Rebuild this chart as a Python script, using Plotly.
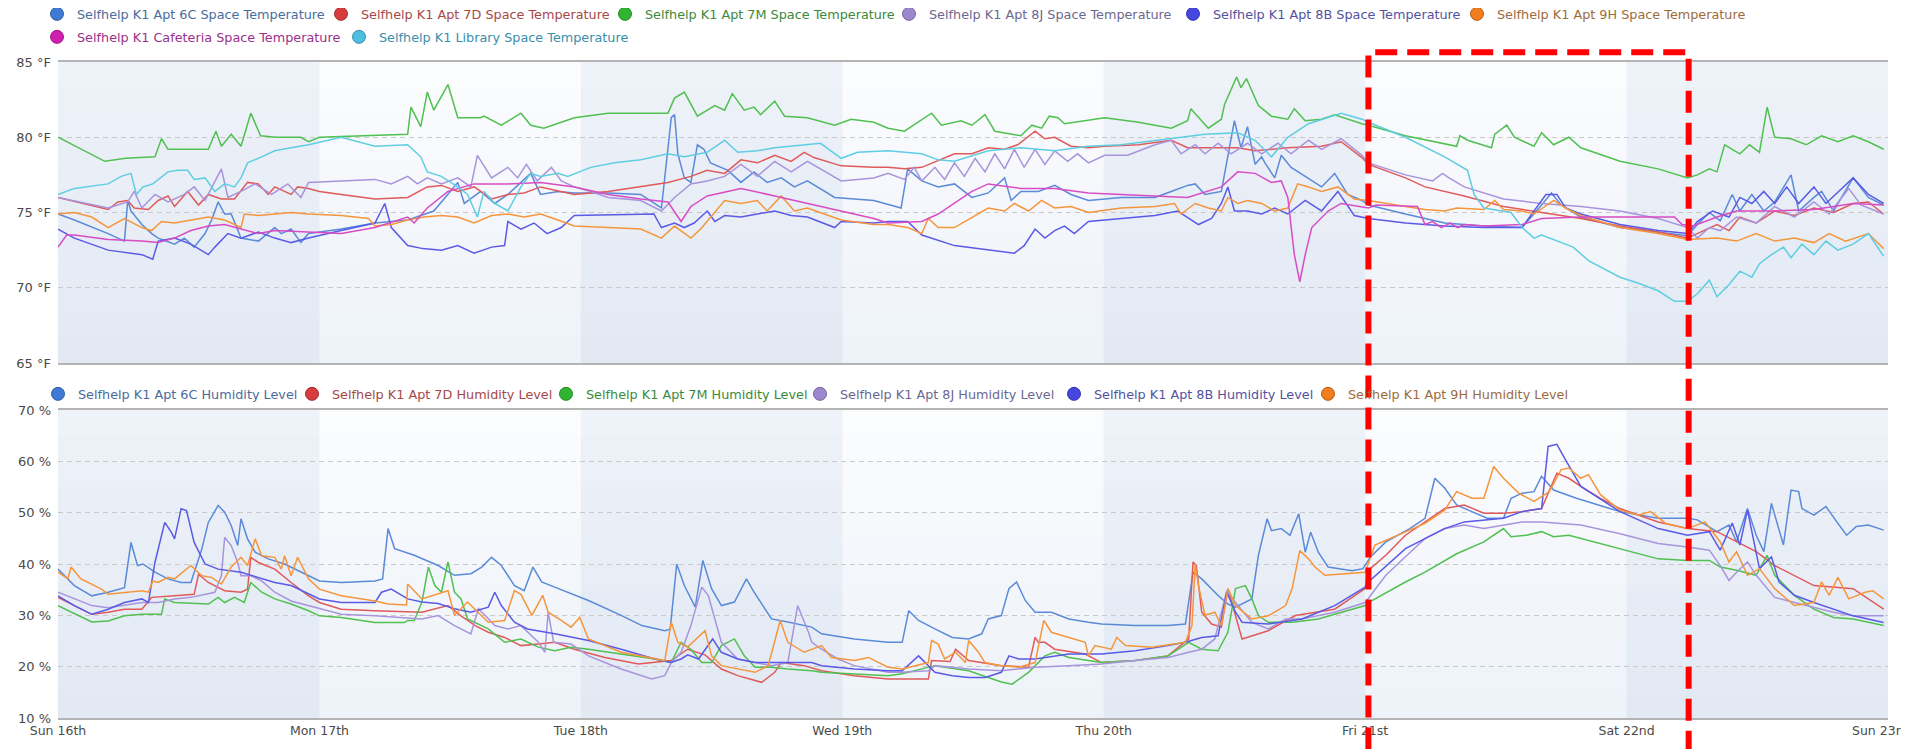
import plotly.graph_objects as go
from datetime import datetime, timedelta

BASE = datetime(2018, 9, 16)

day_labels = ["Sun 16th", "Mon 17th", "Tue 18th", "Wed 19th", "Thu 20th", "Fri 21st", "Sat 22nd", "Sun 23rd"]
temp_ticks = [65, 70, 75, 80, 85]
temp_ticktext = ["65 °F", "70 °F", "75 °F", "80 °F", "85 °F"]
hum_ticks = [10, 20, 30, 40, 50, 60, 70]
hum_ticktext = ["10 %", "20 %", "30 %", "40 %", "50 %", "60 %", "70 %"]

# ---- Space temperature (°F), (hours since Sun 16th 00:00, value) ----
temp_6c = [(0,74.9),(1.5,74.5),(4.6,73.6),(6.1,73.1),(6.4,75.8),(6.7,75.1),(7.7,74.2),(8.6,73.6),(9.2,73.3),(10.7,72.9),(11.6,73.3),(12.5,72.7),(13.5,73.6),(14.1,74.5),(14.7,75.7),(15.3,74.9),(15.9,74.9),(16.8,73.3),(18.4,73.1),(19.9,74.0),(20.5,73.6),(21.4,73.9),(22.3,73.0),(23.0,73.6),(24.0,73.7),(26.0,73.9),(29.1,74.3),(32.1,74.5),(34.5,75.1),(36.7,77.0),(37.3,75.6),(38.8,76.4),(40.1,75.6),(41.3,76.2),(43.4,77.6),(44.3,76.2),(45.9,76.4),(47.4,76.3),(50.5,76.3),(53.5,76.2),(55.4,75.3),(56.3,81.3),(56.6,81.5),(56.9,78.9),(57.5,77.3),(58.1,77.0),(58.7,79.5),(59.3,79.2),(59.9,78.3),(61.5,77.8),(62.7,77.0),(63.9,77.7),(65.1,77.0),(66.4,77.3),(67.6,76.7),(68.8,77.1),(71.3,76.0),(74.9,75.8),(77.4,75.3),(78.0,77.9),(79.3,77.1),(80.8,76.7),(82.3,76.9),(83.9,76.0),(85.4,76.3),(86.9,77.3),(87.5,75.8),(88.4,76.4),(90.0,76.4),(91.5,76.8),(93.0,76.2),(94.6,75.8),(97.6,76.0),(100.7,76.0),(102.2,76.4),(103.7,76.8),(104.4,76.9),(105.3,76.2),(106.8,76.4),(108.0,81.1),(108.6,79.3),(109.2,80.7),(109.9,78.2),(110.5,78.7),(110.8,78.3),(111.7,77.3),(112.3,78.8),(113.2,78.0),(114.5,77.4),(116.0,76.7),(117.2,77.6),(118.4,76.2),(119.7,75.8),(120.3,75.5),(123.7,74.9),(127.3,74.3),(130.9,74.1),(134.4,74.0),(136.2,75.5),(137.1,76.3),(138.0,75.5),(139.8,74.7),(143.4,74.0),(146.9,73.7),(149.6,73.45),(150.5,74.2),(151.6,75.0),(152.6,74.45),(153.7,76.2),(154.4,75.1),(155.5,76.2),(156.6,75.1),(157.6,75.7),(159.1,77.5),(159.8,75.1),(161.2,76.0),(161.9,76.4),(163.0,75.1),(164.8,77.3),(166.2,76.0),(167.6,75.5)]

temp_7d = [(0,76.0),(4.6,75.2),(5.5,75.7),(6.4,75.8),(7.0,75.3),(8.3,75.2),(9.2,75.8),(10.1,76.1),(10.7,75.4),(11.9,76.4),(12.9,75.5),(13.8,76.2),(15.0,75.9),(16.2,75.9),(17.4,77.0),(18.4,76.9),(19.3,76.2),(19.9,76.7),(21.4,76.2),(22.0,76.7),(23.0,76.6),(24.0,76.4),(26.0,76.2),(29.1,75.9),(32.1,76.0),(33.9,76.7),(35.2,76.8),(36.7,76.4),(38.2,76.7),(39.8,75.9),(41.3,76.2),(42.8,76.3),(44.3,76.7),(47.4,76.2),(50.5,76.4),(53.5,76.7),(56.0,77.0),(58.1,77.4),(59.6,77.8),(61.2,77.6),(62.7,78.5),(64.2,78.3),(65.8,78.8),(67.3,78.4),(68.5,79.0),(69.4,78.65),(71.9,78.1),(74.9,78.0),(76.2,78.0),(77.7,77.9),(79.3,78.0),(82.3,78.9),(83.9,78.9),(85.4,79.3),(86.9,79.2),(88.1,79.5),(89.7,80.4),(90.6,79.9),(91.5,80.0),(93.0,79.4),(94.6,79.3),(96.1,79.4),(99.2,79.5),(102.2,79.8),(103.7,79.3),(106.8,79.3),(108.3,79.3),(109.9,79.1),(112.9,79.3),(116.0,79.4),(117.8,79.7),(119.7,78.65),(120.3,78.2),(123.7,77.3),(125.5,76.7),(129.1,76.1),(132.7,75.4),(136.2,75.0),(139.8,74.6),(143.4,74.1),(146.9,73.7),(149.6,73.3),(150.5,73.6),(152.3,74.2),(153.4,73.8),(154.4,74.7),(155.9,74.3),(157.6,75.1),(159.4,74.8),(161.2,75.3),(163.0,75.0),(164.8,75.6),(166.2,75.7),(167.6,74.9)]

temp_7m = [(0,80.0),(4.3,78.4),(6.2,78.6),(8.9,78.7),(9.5,79.9),(10.1,79.2),(13.8,79.2),(14.5,80.4),(15.0,79.4),(15.9,80.2),(16.8,79.4),(17.7,81.6),(18.6,80.1),(20.0,80.0),(22.3,80.0),(23.0,79.7),(24.0,80.0),(28.0,80.1),(32.1,80.2),(32.4,82.0),(33.3,80.7),(33.9,83.0),(34.5,81.8),(35.8,83.5),(36.7,81.3),(38.8,81.3),(39.1,81.4),(40.7,80.8),(42.5,81.6),(43.4,80.8),(44.6,80.6),(47.4,81.3),(50.5,81.6),(56.0,81.6),(56.6,82.6),(57.5,83.0),(58.7,81.4),(60.3,82.1),(61.2,81.8),(61.9,82.9),(63.0,81.8),(63.9,82.0),(64.5,81.5),(65.8,82.4),(66.7,81.4),(68.8,81.3),(71.3,80.8),(72.8,81.2),(74.9,81.0),(76.2,80.6),(77.7,80.4),(80.2,81.6),(81.1,80.8),(82.9,81.1),(83.9,80.8),(85.1,81.5),(86.0,80.4),(88.4,80.1),(89.4,80.8),(90.3,80.6),(91.0,81.4),(91.8,81.3),(92.4,80.9),(96.1,81.3),(99.2,81.0),(102.2,80.6),(103.7,81.1),(104.0,81.9),(105.6,80.6),(106.8,81.2),(107.1,82.2),(108.2,84.0),(108.6,83.3),(109.1,83.9),(110.2,82.1),(111.4,81.4),(112.9,81.2),(113.5,81.9),(114.5,81.1),(116.0,81.2),(117.2,81.5),(119.7,80.9),(120.3,80.8),(123.7,80.1),(128.4,79.4),(128.7,80.1),(129.4,79.8),(131.6,79.3),(131.9,80.2),(133.0,80.8),(133.7,80.0),(135.5,79.4),(136.2,80.3),(137.3,79.5),(138.7,80.0),(139.8,79.3),(143.4,78.4),(146.9,77.9),(149.6,77.3),(150.5,77.5),(151.6,77.9),(152.3,77.7),(153.0,79.5),(154.4,78.9),(155.3,79.5),(156.2,79.0),(156.9,82.0),(157.6,80.0),(159.1,79.9),(160.5,79.5),(161.9,80.1),(163.4,79.7),(164.8,80.1),(166.2,79.7),(167.6,79.2)]

temp_8j = [(0,76.0),(4.6,75.3),(6.4,75.7),(7.0,76.4),(7.7,75.3),(8.9,76.2),(10.1,75.7),(11.6,76.2),(12.5,76.7),(13.5,75.8),(15.0,77.9),(15.6,76.0),(16.8,76.4),(18.1,76.9),(19.6,76.2),(21.1,76.9),(22.3,76.0),(23.0,77.0),(26.0,77.1),(29.1,77.2),(30.6,76.9),(32.1,77.4),(33.0,76.9),(33.9,77.3),(35.2,76.9),(36.7,77.3),(37.9,76.7),(38.5,78.8),(39.8,77.3),(41.3,78.0),(42.2,77.3),(43.0,78.2),(44.0,77.1),(45.3,78.0),(46.2,77.1),(47.4,76.7),(48.9,76.4),(50.5,76.0),(53.5,75.8),(55.4,75.1),(56.6,76.0),(58.1,76.9),(59.6,77.1),(61.2,77.4),(62.7,78.2),(64.2,77.4),(65.8,78.4),(67.3,77.7),(68.8,78.4),(70.4,77.7),(71.9,77.1),(74.9,77.3),(76.2,77.6),(77.7,77.2),(78.6,78.0),(79.3,77.1),(80.5,78.0),(81.4,77.2),(82.3,78.3),(83.2,77.4),(84.2,78.6),(85.1,77.7),(86.0,78.9),(86.9,77.9),(87.8,79.2),(88.7,78.0),(89.7,79.2),(90.6,78.2),(91.5,79.1),(92.7,78.4),(93.6,78.9),(94.6,78.3),(96.1,78.8),(98.2,78.8),(100.7,79.5),(102.2,79.8),(103.1,78.9),(104.4,79.5),(105.3,78.9),(106.5,79.6),(107.7,78.9),(109.2,79.6),(110.5,78.9),(112.0,79.6),(113.2,78.9),(114.8,79.8),(116.0,79.2),(117.8,79.9),(119.7,78.8),(120.3,78.3),(123.7,77.5),(126.2,77.1),(127.1,77.6),(127.7,77.3),(129.1,76.7),(132.7,75.9),(136.2,75.6),(139.8,75.4),(143.4,75.1),(146.9,74.6),(149.6,74.0),(150.5,73.3),(151.6,74.0),(152.6,73.8),(154.1,74.7),(155.9,74.3),(157.6,75.4),(159.4,74.7),(161.2,75.7),(162.6,74.9),(164.4,76.6),(165.5,75.5),(167.6,74.9)]

temp_8b = [(0,73.9),(1.5,73.3),(4.6,72.5),(7.7,72.2),(8.7,71.9),(9.2,73.1),(10.7,73.3),(12.2,72.9),(13.8,72.2),(14.4,72.7),(15.6,73.6),(16.8,73.3),(18.4,73.7),(19.9,73.3),(21.4,73.0),(23.0,73.3),(26.0,73.8),(29.1,74.3),(30.0,75.6),(30.6,74.0),(32.1,72.8),(33.5,72.6),(35.2,72.5),(36.7,72.8),(38.2,72.3),(39.8,72.7),(41.0,72.8),(41.3,74.4),(42.5,73.9),(43.7,74.3),(44.9,73.6),(46.2,74.0),(47.4,74.8),(54.7,74.9),(55.4,74.0),(56.6,74.3),(57.5,74.0),(58.4,74.3),(59.6,75.1),(60.3,74.4),(61.2,74.8),(62.7,74.7),(64.2,74.9),(65.8,75.1),(67.3,74.8),(68.8,74.7),(71.3,74.0),(71.9,74.4),(74.9,74.3),(76.2,74.4),(78.0,74.4),(79.3,73.5),(82.3,72.8),(85.4,72.5),(87.8,72.3),(88.7,72.8),(89.7,73.9),(90.6,73.3),(91.5,73.8),(92.4,74.1),(93.3,73.6),(94.6,74.4),(97.6,74.6),(100.7,74.8),(102.8,75.1),(103.7,74.7),(104.7,74.2),(105.9,74.6),(106.8,75.6),(107.4,76.7),(108.0,75.1),(109.2,75.1),(110.5,74.9),(111.7,75.3),(112.9,74.9),(114.5,75.8),(116.0,75.1),(117.5,76.4),(119.0,74.8),(120.3,74.6),(123.7,74.3),(127.3,74.1),(130.9,74.0),(134.4,74.0),(136.6,76.2),(137.6,76.2),(138.4,75.3),(139.8,74.9),(143.4,74.2),(146.9,73.8),(149.6,73.6),(150.5,74.4),(151.9,75.1),(153.4,74.7),(154.4,76.0),(155.5,75.6),(156.6,76.4),(157.6,75.6),(158.7,76.7),(159.8,75.6),(161.2,76.7),(162.3,75.6),(164.8,77.3),(166.2,76.2),(167.6,75.6)]

temp_9h = [(0,74.9),(1.5,75.0),(3.1,74.7),(4.6,74.0),(6.1,74.6),(7.7,74.0),(8.6,73.8),(9.5,74.4),(10.7,74.3),(12.2,74.5),(13.8,74.7),(15.3,74.5),(16.8,74.0),(17.1,74.9),(18.4,74.8),(19.9,74.9),(21.4,75.0),(23.0,74.9),(26.0,74.8),(28.5,74.6),(29.1,74.1),(30.6,74.2),(32.1,74.5),(33.6,74.7),(35.2,74.8),(36.7,74.7),(38.2,74.3),(39.8,74.8),(41.3,74.9),(42.8,74.7),(44.3,74.9),(45.9,74.5),(47.4,74.1),(50.5,74.0),(53.5,73.9),(55.4,73.3),(56.6,74.1),(58.1,73.3),(59.0,73.9),(61.2,75.8),(62.7,75.6),(64.2,75.8),(65.1,75.1),(66.4,76.1),(67.6,75.1),(68.8,75.3),(70.4,74.9),(71.9,74.5),(74.9,74.2),(76.2,74.2),(78.0,74.0),(79.3,73.6),(79.9,74.6),(80.8,74.0),(82.3,74.0),(83.9,74.7),(85.4,75.3),(86.9,75.1),(87.8,75.6),(89.1,75.1),(90.3,75.8),(91.5,75.3),(93.0,75.4),(94.6,75.0),(97.6,75.3),(100.7,75.4),(102.5,75.6),(103.1,74.9),(104.4,75.6),(105.6,75.3),(106.8,75.1),(107.4,76.0),(108.3,75.6),(109.2,75.8),(110.5,75.6),(111.7,75.1),(112.9,75.3),(113.8,76.9),(114.8,76.7),(116.0,76.4),(117.5,76.7),(119.0,75.9),(120.3,75.8),(123.7,75.4),(125.5,75.2),(127.3,75.1),(128.4,75.3),(130.9,75.2),(131.9,75.8),(132.7,75.2),(134.4,75.1),(135.5,74.9),(137.3,75.8),(138.4,75.3),(139.8,74.8),(143.4,74.0),(146.9,73.6),(149.6,73.2),(152.3,73.3),(154.1,73.1),(155.9,73.6),(157.6,73.1),(159.4,73.3),(161.2,73.0),(162.6,73.6),(164.1,73.1),(166.2,73.6),(167.6,72.6)]

temp_cafeteria = [(0,72.7),(0.8,73.5),(1.5,73.5),(4.6,73.2),(7.7,73.1),(9.2,73.0),(10.7,73.3),(12.2,73.8),(13.8,74.1),(15.3,74.2),(16.8,73.9),(18.4,73.6),(19.9,73.8),(23.0,73.7),(26.0,73.6),(29.1,74.0),(32.1,74.7),(32.7,74.3),(33.9,75.3),(35.8,76.4),(38.2,76.9),(41.3,76.9),(44.3,77.0),(47.4,76.7),(50.5,76.2),(53.5,75.9),(56.0,75.7),(57.2,74.4),(58.1,75.4),(59.6,76.1),(62.7,76.6),(65.8,76.1),(68.8,75.6),(71.9,75.1),(74.9,74.6),(76.2,74.3),(79.3,74.4),(80.8,74.9),(82.3,75.6),(83.9,76.4),(85.4,76.9),(88.4,76.6),(91.5,76.6),(94.6,76.3),(97.6,76.2),(100.7,76.1),(103.7,76.0),(106.8,76.7),(108.3,77.7),(109.9,77.6),(111.4,77.0),(112.3,77.1),(112.9,76.0),(113.5,72.2),(114.0,70.4),(114.5,72.2),(115.1,74.0),(116.6,75.1),(117.8,75.6),(120.3,75.3),(121.0,75.5),(124.8,75.4),(125.5,74.2),(126.2,74.4),(127.0,74.0),(127.8,74.3),(128.5,74.0),(129.1,74.2),(130.9,74.1),(134.4,74.2),(136.2,74.6),(139.8,74.7),(143.4,74.7),(148.4,74.7),(149.1,74.2),(150.1,74.1),(152.3,74.7),(154.1,75.1),(157.6,75.1),(161.2,75.2),(164.8,75.6),(167.6,75.5)]

temp_library = [(0,76.2),(1.5,76.6),(4.6,76.9),(5.8,77.4),(6.7,77.6),(7.2,76.2),(7.8,76.7),(8.7,76.9),(10.1,77.7),(11.0,77.8),(11.9,77.8),(12.5,77.2),(13.5,77.3),(14.4,76.4),(15.3,76.9),(16.2,76.7),(16.8,77.3),(17.4,78.3),(18.7,78.7),(19.9,79.1),(21.4,79.3),(23.0,79.5),(26.0,80.0),(29.1,79.4),(32.1,79.5),(33.3,78.7),(33.9,77.7),(35.2,77.4),(36.7,76.7),(37.6,76.2),(38.5,74.7),(39.1,76.4),(40.1,75.6),(41.3,75.1),(42.5,76.7),(43.4,77.6),(44.3,77.4),(45.9,77.6),(46.8,77.4),(48.9,78.0),(51.1,78.3),(53.5,78.5),(56.0,78.9),(57.5,78.7),(59.6,79.0),(61.2,79.8),(62.4,79.0),(64.2,79.1),(65.8,79.3),(67.3,79.4),(68.8,79.5),(70.0,79.6),(71.9,78.6),(73.4,79.0),(76.2,79.1),(79.3,78.9),(80.8,78.5),(82.3,78.4),(85.4,79.1),(88.4,79.3),(91.5,79.1),(94.6,79.4),(97.6,79.5),(102.2,79.9),(105.3,80.2),(108.3,80.3),(109.9,79.8),(111.4,78.7),(112.9,80.0),(114.8,80.9),(116.0,81.2),(117.8,81.6),(119.7,81.2),(120.3,81.0),(123.7,80.0),(127.3,78.7),(129.4,77.8),(130.0,76.2),(130.9,75.3),(133.4,75.0),(134.4,74.0),(135.5,73.3),(136.2,73.5),(139.1,72.7),(140.5,71.8),(143.4,70.7),(145.1,70.3),(146.9,69.8),(148.4,69.1),(149.6,69.1),(150.5,69.6),(151.6,70.5),(152.3,69.4),(153.4,70.2),(154.4,71.1),(155.5,70.7),(156.2,71.6),(157.3,72.2),(158.4,72.7),(159.1,72.0),(160.1,72.9),(161.2,72.2),(162.3,73.1),(163.4,72.5),(164.8,72.9),(166.2,73.6),(167.6,72.1)]

# ---- Humidity level (%) ----
hum_6c = [(0,39.0),(1.5,35.8),(3.1,33.8),(4.6,34.5),(6.1,35.4),(6.7,44.2),(7.3,39.7),(7.8,40.0),(8.9,38.4),(10.1,37.1),(11.3,36.4),(12.2,36.4),(13.2,42.9),(13.8,48.1),(14.7,51.4),(15.3,50.1),(15.9,47.5),(16.5,43.6),(16.8,48.8),(17.4,44.9),(18.1,42.3),(19.3,41.0),(20.8,40.0),(22.3,38.4),(24.0,36.7),(26.0,36.4),(29.1,36.7),(29.8,37.1),(30.3,46.9),(30.9,43.0),(32.7,41.7),(34.9,39.7),(36.4,37.8),(37.9,38.1),(38.9,39.4),(39.8,41.3),(40.7,39.7),(41.9,35.8),(42.8,34.8),(43.6,39.4),(44.4,36.5),(45.6,35.5),(48.7,32.9),(51.7,30.0),(53.6,28.0),(55.7,27.0),(56.2,27.3),(56.8,40.0),(57.5,35.8),(58.5,31.6),(59.2,40.7),(60.0,35.2),(60.9,31.9),(62.1,32.6),(63.2,37.1),(63.9,34.5),(65.5,29.3),(67.0,28.7),(69.2,27.7),(70.1,26.4),(73.1,25.4),(76.2,24.75),(77.5,24.75),(78.1,30.9),(79.0,29.0),(80.5,27.35),(82.1,25.7),(83.6,25.4),(84.8,26.4),(85.4,29.3),(86.6,29.95),(87.3,35.2),(88.0,36.5),(88.8,32.9),(89.7,30.6),(91.2,30.6),(92.8,29.3),(94.6,28.65),(95.8,28.3),(98.9,28.0),(101.9,28.0),(103.5,28.3),(104.2,38.4),(105.0,37.1),(106.5,33.85),(107.4,32.2),(108.1,31.6),(109.6,33.2),(110.2,41.7),(111.0,48.8),(111.4,46.5),(112.3,46.9),(113.1,45.6),(113.9,49.8),(114.5,42.3),(115.0,46.2),(115.7,42.3),(116.6,39.4),(118.8,38.7),(119.8,39.1),(120.5,41.4),(121.9,44.3),(124.1,46.9),(125.5,48.9),(126.4,56.7),(127.3,54.8),(128.4,51.5),(129.8,50.2),(131.2,48.9),(132.7,48.9),(133.4,52.8),(134.4,53.8),(135.5,54.1),(136.2,57.1),(137.3,54.4),(139.4,52.8),(140.9,51.8),(143.4,50.2),(146.9,48.9),(149.6,48.9),(150.5,48.6),(152.3,46.3),(153.4,47.6),(154.1,44.3),(155.1,50.8),(155.9,45.6),(156.6,42.4),(157.3,51.8),(158.4,43.7),(159.1,54.4),(159.8,54.1),(160.1,50.8),(161.2,49.5),(162.3,51.2),(163.3,48.2),(164.2,45.6),(165.1,47.3),(166.2,47.6),(167.6,46.6)]

hum_7d = [(0,33.5),(1.5,31.9),(3.1,30.2),(4.6,30.6),(6.1,31.2),(7.7,31.2),(8.6,33.5),(10.7,33.8),(12.5,34.1),(12.9,38.0),(13.8,36.4),(15.3,34.8),(16.8,34.5),(17.4,35.1),(17.7,41.3),(18.4,40.3),(19.9,39.0),(21.4,36.4),(23.0,33.8),(24.0,32.5),(26.0,31.2),(29.1,30.9),(32.1,30.6),(33.4,30.6),(35.8,31.9),(37.0,29.9),(38.3,28.0),(39.5,26.7),(41.0,25.7),(42.5,24.1),(44.1,24.4),(45.6,24.75),(47.4,23.4),(50.2,21.8),(53.3,20.5),(56.3,21.2),(57.8,23.4),(59.4,22.3),(60.9,19.55),(62.4,18.25),(64.6,16.95),(65.8,18.9),(66.4,20.8),(68.5,20.2),(70.1,19.2),(73.1,18.25),(76.2,17.6),(79.9,17.6),(80.2,21.2),(81.9,21.0),(82.4,23.4),(83.6,21.2),(86.6,20.2),(89.1,19.9),(89.7,25.7),(90.0,24.75),(90.6,24.75),(91.5,23.4),(94.3,22.45),(95.8,20.8),(98.9,21.2),(101.9,22.1),(103.8,25.4),(104.2,40.4),(104.5,39.7),(105.0,30.6),(105.9,28.3),(106.8,27.7),(107.4,35.2),(108.1,30.0),(108.7,25.4),(111.1,27.0),(113.6,29.95),(117.2,31.2),(120.0,35.2),(120.3,38.8),(121.9,41.7),(123.7,45.6),(125.5,48.2),(127.3,50.8),(129.1,51.5),(130.9,49.9),(132.7,49.9),(134.4,50.2),(136.2,50.8),(137.6,57.7),(138.7,56.7),(139.8,55.1),(141.6,52.8),(143.4,50.8),(146.9,48.2),(149.6,46.9),(152.3,46.3),(154.1,44.3),(155.9,42.4),(157.6,39.7),(161.2,35.8),(164.8,35.2),(167.6,31.2)]

hum_7m = [(0,31.9),(3.1,28.7),(4.6,28.9),(6.1,29.9),(7.7,30.2),(9.5,30.2),(9.8,33.2),(10.7,32.5),(13.8,32.2),(14.7,33.5),(15.3,32.5),(16.2,33.5),(17.1,32.5),(17.7,36.4),(18.7,34.5),(19.9,33.2),(21.4,32.2),(23.0,30.9),(24.0,29.9),(26.0,29.6),(29.1,28.6),(31.8,28.6),(32.1,29.0),(32.7,29.0),(33.4,32.5),(34.0,39.4),(34.6,35.8),(35.2,34.5),(35.8,40.4),(36.4,34.5),(37.0,33.2),(37.6,29.3),(39.5,27.35),(41.0,24.75),(42.5,25.4),(44.1,23.8),(45.6,23.1),(47.1,23.8),(48.7,23.4),(51.7,22.45),(54.8,21.5),(56.3,20.8),(57.2,24.75),(58.1,23.4),(59.1,20.8),(60.0,20.8),(60.9,24.1),(62.1,25.4),(63.0,22.1),(64.0,19.9),(65.5,19.9),(67.0,19.55),(69.2,19.2),(70.1,18.9),(73.1,18.6),(76.2,18.25),(77.5,18.6),(80.5,20.2),(83.6,19.2),(86.6,17.0),(87.6,16.6),(89.1,18.9),(90.6,22.1),(91.5,22.8),(92.8,21.8),(95.8,20.8),(98.9,21.2),(101.9,22.1),(103.8,24.75),(105.0,23.4),(106.5,23.1),(107.4,26.7),(108.1,35.2),(109.0,35.8),(109.6,33.2),(110.2,29.95),(111.1,28.65),(113.3,28.65),(115.7,29.3),(120.0,31.9),(120.3,32.5),(123.7,36.5),(125.5,38.4),(128.4,42.0),(130.9,44.3),(132.7,46.9),(133.4,45.3),(134.8,45.6),(136.2,46.3),(137.3,45.3),(138.7,45.6),(139.8,45.0),(143.4,43.0),(146.9,41.0),(149.6,40.7),(151.6,40.7),(152.6,39.4),(154.1,38.8),(155.9,37.8),(156.9,41.7),(157.6,37.8),(159.4,33.9),(161.2,31.2),(163.0,29.6),(164.8,29.3),(167.6,28.0)]

hum_8j = [(0,34.5),(1.5,33.2),(3.1,31.9),(4.6,31.5),(7.7,32.5),(9.2,32.5),(10.7,33.2),(12.2,33.5),(14.4,34.5),(15.0,37.7),(15.3,45.2),(15.9,43.6),(16.5,40.3),(16.8,37.7),(17.7,37.7),(18.7,36.7),(19.9,34.5),(21.4,32.8),(23.0,31.9),(24.0,31.2),(26.0,30.2),(29.1,29.9),(31.0,29.6),(33.4,29.3),(34.9,29.95),(36.4,28.0),(37.9,26.4),(38.6,31.3),(39.2,30.0),(40.1,28.0),(41.3,27.35),(42.5,28.0),(44.1,24.75),(44.7,22.8),(45.0,30.6),(45.5,24.75),(47.1,24.4),(48.7,22.1),(51.7,19.55),(54.5,17.6),(55.7,18.25),(56.3,20.8),(57.2,22.8),(58.1,28.0),(59.1,35.5),(59.7,33.85),(60.3,29.3),(60.9,24.75),(62.4,21.5),(64.0,20.8),(65.5,20.2),(67.0,20.8),(67.9,31.9),(68.9,26.7),(69.2,24.75),(70.1,23.4),(71.6,21.5),(73.1,20.2),(76.2,18.9),(77.5,18.9),(79.9,19.2),(80.5,20.2),(83.6,19.55),(86.6,19.2),(89.7,19.9),(92.8,20.2),(95.8,20.5),(98.9,21.2),(101.9,21.8),(103.8,22.8),(105.0,23.4),(106.2,25.4),(107.3,34.8),(108.1,32.5),(109.6,28.65),(111.1,27.35),(112.7,29.3),(114.2,29.3),(117.2,30.6),(120.0,32.5),(121.9,37.8),(123.7,41.4),(125.5,45.0),(127.3,46.9),(129.1,47.6),(130.9,46.9),(132.7,47.6),(134.4,48.2),(136.2,48.2),(139.8,47.6),(143.4,45.9),(146.9,44.0),(149.6,43.3),(151.6,42.7),(152.6,39.7),(153.4,36.8),(154.1,38.4),(155.1,40.4),(155.9,37.8),(157.6,33.5),(159.4,32.5),(161.2,31.6),(163.0,30.6),(164.8,29.9),(167.6,29.9)]

hum_8b = [(0,33.8),(1.5,31.9),(3.1,30.2),(4.6,31.2),(6.1,32.5),(7.7,33.2),(8.3,32.5),(8.9,40.3),(9.8,48.1),(10.4,46.2),(10.7,44.9),(11.3,50.75),(11.8,50.4),(12.5,44.2),(13.5,40.0),(14.7,39.0),(16.8,38.4),(19.9,36.4),(21.4,35.8),(23.0,34.1),(24.0,33.2),(26.0,32.5),(29.1,32.5),(29.7,34.5),(30.6,35.1),(32.1,33.2),(33.4,32.6),(34.9,32.3),(36.4,31.3),(37.9,30.6),(39.5,31.6),(40.1,34.5),(40.7,31.9),(41.9,28.65),(43.1,27.35),(45.6,26.4),(48.7,25.1),(51.7,23.4),(54.8,21.5),(56.3,20.8),(57.2,21.5),(57.8,22.3),(58.8,21.5),(60.1,25.4),(60.9,22.8),(62.4,21.5),(64.0,20.8),(67.0,20.8),(69.2,20.8),(70.1,20.2),(73.1,19.55),(76.2,19.2),(77.5,19.2),(79.0,22.1),(80.5,18.9),(82.1,18.25),(83.6,17.9),(85.1,17.9),(86.6,18.9),(87.3,22.1),(88.2,21.5),(89.7,21.5),(92.8,22.45),(95.8,22.45),(98.9,23.1),(101.9,24.1),(103.5,24.75),(105.0,25.7),(106.5,26.0),(107.3,34.5),(108.1,30.6),(108.7,28.65),(111.1,28.3),(114.2,29.3),(117.2,31.9),(120.0,35.5),(120.3,36.5),(123.7,43.0),(127.3,46.9),(129.1,48.2),(130.9,48.6),(132.7,48.9),(134.4,50.2),(136.2,50.8),(136.8,62.9),(137.6,63.3),(138.4,60.3),(139.8,55.1),(143.4,50.2),(146.9,46.9),(149.6,45.6),(151.6,46.3),(152.6,42.7),(153.7,48.0),(154.4,43.7),(155.1,50.5),(156.2,39.1),(157.3,41.4),(158.0,36.5),(159.4,33.9),(161.2,32.5),(163.0,31.2),(164.8,29.9),(167.6,28.6)]

hum_9h = [(0,38.4),(0.9,37.1),(1.2,39.4),(2.1,37.1),(4.0,35.1),(4.6,34.1),(7.7,34.8),(8.3,34.5),(8.7,36.7),(9.2,36.4),(10.1,37.4),(10.7,37.1),(12.2,39.7),(13.2,37.7),(14.1,37.4),(15.0,36.1),(15.9,39.4),(16.8,41.3),(17.4,39.7),(18.1,44.9),(18.7,41.6),(19.9,41.3),(20.5,39.0),(20.8,41.6),(21.4,37.7),(22.0,41.3),(23.0,37.1),(24.0,35.1),(26.0,33.8),(29.1,32.8),(30.3,32.2),(32.0,32.0),(32.1,36.1),(33.4,33.2),(35.8,34.8),(36.4,30.0),(37.6,32.6),(39.5,28.65),(41.0,29.0),(41.9,34.8),(42.5,34.1),(43.5,30.0),(44.5,33.9),(45.0,30.6),(46.2,29.0),(47.1,27.7),(47.9,29.6),(48.7,25.4),(51.7,22.8),(54.8,21.5),(55.7,21.2),(56.3,28.65),(56.9,24.75),(57.8,23.8),(59.4,27.0),(60.0,22.1),(60.9,20.2),(64.0,18.9),(65.2,20.2),(66.3,29.0),(67.0,24.75),(68.5,22.8),(70.1,24.1),(71.0,21.8),(73.1,21.2),(74.4,21.8),(76.2,19.9),(77.5,19.55),(79.9,20.8),(80.2,25.1),(80.8,24.4),(81.4,21.5),(82.4,22.8),(83.3,20.8),(83.6,25.1),(84.5,22.8),(85.1,20.8),(86.6,20.2),(88.2,19.9),(89.7,20.8),(90.5,29.0),(91.2,26.7),(92.8,25.7),(94.3,24.75),(94.6,22.1),(95.2,24.1),(96.7,23.4),(97.2,25.7),(98.0,24.1),(100.4,23.8),(103.5,24.75),(104.1,28.0),(104.4,40.0),(104.7,35.8),(105.3,30.0),(106.2,30.6),(106.8,28.0),(107.4,35.2),(108.1,31.9),(109.6,29.3),(111.1,29.9),(112.7,31.9),(113.3,35.2),(114.0,42.6),(114.8,41.0),(115.4,39.4),(116.3,37.8),(117.9,38.1),(120.0,38.4),(120.9,43.7),(121.9,44.6),(123.7,46.3),(125.5,47.9),(127.3,50.5),(128.4,54.1),(129.8,52.8),(130.9,52.8),(131.8,59.0),(132.7,56.7),(134.1,53.8),(135.5,52.2),(136.9,54.1),(138.0,58.4),(138.7,58.7),(139.8,56.7),(140.5,57.4),(141.6,53.5),(143.4,50.5),(145.1,49.5),(146.2,50.2),(147.6,47.9),(149.6,46.9),(151.2,48.2),(152.6,44.3),(153.4,40.4),(154.1,42.4),(155.1,37.8),(156.2,39.1),(157.6,35.2),(159.4,31.9),(161.2,32.5),(161.9,36.5),(162.6,33.9),(163.4,37.4),(164.4,33.2),(165.9,34.5),(166.6,34.8),(167.6,33.2)]

# ---- series styling: (name, data, line colour, legend marker colour, legend text colour) ----
temp_series = [
    ("Selfhelp K1 Apt 6C Space Temperature", temp_6c, "#5a8ad8", "#3f7bd6", "#4a6c9c"),
    ("Selfhelp K1 Apt 7D Space Temperature", temp_7d, "#e05a5a", "#d83c3c", "#a54848"),
    ("Selfhelp K1 Apt 7M Space Temperature", temp_7m, "#50c050", "#2fb52f", "#3b8a3b"),
    ("Selfhelp K1 Apt 8J Space Temperature", temp_8j, "#a894dc", "#9b88cf", "#6c6790"),
    ("Selfhelp K1 Apt 8B Space Temperature", temp_8b, "#5a5ae6", "#4646e0", "#5252a0"),
    ("Selfhelp K1 Apt 9H Space Temperature", temp_9h, "#f5963c", "#f07d1e", "#9c6c3c"),
    ("Selfhelp K1 Cafeteria Space Temperature", temp_cafeteria, "#d84cc4", "#cf1fb0", "#993089"),
    ("Selfhelp K1 Library Space Temperature", temp_library, "#5fcde2", "#4cbfe0", "#3a8faa"),
]
hum_series = [
    ("Selfhelp K1 Apt 6C Humidity Level", hum_6c, "#5a8ad8", "#3f7bd6", "#4a6c9c"),
    ("Selfhelp K1 Apt 7D Humidity Level", hum_7d, "#e05a5a", "#d83c3c", "#a54848"),
    ("Selfhelp K1 Apt 7M Humidity Level", hum_7m, "#50c050", "#2fb52f", "#3b8a3b"),
    ("Selfhelp K1 Apt 8J Humidity Level", hum_8j, "#a894dc", "#9b88cf", "#6c6790"),
    ("Selfhelp K1 Apt 8B Humidity Level", hum_8b, "#5a5ae6", "#4646e0", "#5252a0"),
    ("Selfhelp K1 Apt 9H Humidity Level", hum_9h, "#f5963c", "#f07d1e", "#9c6c3c"),
]
# legend entry widths (px) so that the entries sit where the reference has them
temp_entry_w = [239, 239, 239, 239, 239, 262, 257, 262]
hum_entry_w = [209, 209, 209, 209, 209, 232]


def hours_to_dt(h):
    return BASE + timedelta(hours=h)


def darker(hexc, f=0.75):
    r, g, b = int(hexc[1:3], 16), int(hexc[3:5], 16), int(hexc[5:7], 16)
    return "rgb(%d,%d,%d)" % (r * f, g * f, b * f)


W, H = 1909, 749
PLOT_W = W - 29            # plotting area width (left margin 0)
X0 = 50 / PLOT_W           # axis domain starts 50 px from the left edge

fig = go.Figure()
LEG_FONT = dict(family="DejaVu Sans", size=12.8)

for name, pts, lc, mc, tc in temp_series:
    fig.add_trace(go.Scatter(
        x=[hours_to_dt(h) for h, _ in pts], y=[v for _, v in pts],
        mode="lines", line=dict(color=lc, width=1.5), name=name,
        showlegend=False, legendgroup=name, xaxis="x", yaxis="y", hoverinfo="skip"))
for i, (name, pts, lc, mc, tc) in enumerate(temp_series):
    fig.add_trace(go.Scatter(
        x=[None], y=[None], mode="markers",
        marker=dict(size=13, color=mc, line=dict(color=darker(mc), width=1)),
        name='<span style="color:%s">%s</span>' % (tc, name),
        legend="legend" if i < 6 else "legend3", legendgroup=name,
        legendwidth=temp_entry_w[i],
        xaxis="x", yaxis="y", showlegend=True))

for name, pts, lc, mc, tc in hum_series:
    fig.add_trace(go.Scatter(
        x=[hours_to_dt(h) for h, _ in pts], y=[v for _, v in pts],
        mode="lines", line=dict(color=lc, width=1.5), name=name,
        showlegend=False, legendgroup=name, xaxis="x2", yaxis="y2", hoverinfo="skip"))
for i, (name, pts, lc, mc, tc) in enumerate(hum_series):
    fig.add_trace(go.Scatter(
        x=[None], y=[None], mode="markers",
        marker=dict(size=13, color=mc, line=dict(color=darker(mc), width=1)),
        name='<span style="color:%s">%s</span>' % (tc, name),
        legend="legend2", legendgroup=name, legendwidth=hum_entry_w[i],
        xaxis="x2", yaxis="y2", showlegend=True))

# ---- background gradient and alternating day bands ----
BASE_TOP, BASE_BOT = (251, 252, 254), (237, 242, 249)
BAND_TOP, BAND_BOT = (238, 242, 249), (226, 233, 243)
N = 12
shapes = []


def lerp(c0, c1, t):
    return "rgb(%d,%d,%d)" % tuple(round(a + (b - a) * t) for a, b in zip(c0, c1))


for xr, yr in (("x", "y"), ("x2", "y2")):
    for i in range(N):
        y0 = max(0, 1 - (i + 1) / N - 0.003)
        y1 = 1 - i / N
        t = (i + 0.5) / N
        shapes.append(dict(type="rect", xref=xr + " domain", yref=yr + " domain",
                           x0=0, x1=1, y0=y0, y1=y1, fillcolor=lerp(BASE_TOP, BASE_BOT, t),
                           line=dict(width=0), layer="below"))
        for d in (0, 2, 4, 6):
            shapes.append(dict(type="rect", xref=xr, yref=yr + " domain",
                               x0=BASE + timedelta(days=d), x1=BASE + timedelta(days=d + 1),
                               y0=y0, y1=y1, fillcolor=lerp(BAND_TOP, BAND_BOT, t),
                               line=dict(width=0), layer="below"))

# highlighted window (red dashed frame)
shapes.append(dict(type="rect", xref="x", yref="paper",
                   x0=hours_to_dt(120.3), x1=hours_to_dt(149.7), y0=0.006, y1=0.941,
                   line=dict(color="#ff0000", width=6, dash="22px,10px"),
                   fillcolor="rgba(0,0,0,0)", layer="above"))

axis_font = dict(family="DejaVu Sans", size=13, color="#4a4a4a")
x_font = dict(family="DejaVu Sans", size=12.5, color="#4a4a4a")
x_range = [BASE, BASE + timedelta(days=7)]
tickvals = [BASE + timedelta(days=i) for i in range(7)]

common_x = dict(range=x_range, showgrid=False, zeroline=False, showline=True, mirror=True,
                linecolor="#b4b4b4", linewidth=1.5, ticks="", tickvals=tickvals,
                ticktext=day_labels[:7], tickfont=x_font)
common_y = dict(showgrid=True, gridcolor="#c9c9c9", griddash="5px,4px", gridwidth=1,
                zeroline=False, showline=False, ticks="", tickfont=axis_font, ticklabelstandoff=6)

fig.update_layout(
    width=W, height=H, autosize=False,
    margin=dict(l=0, r=29, t=0, b=0, pad=0, autoexpand=False),
    paper_bgcolor="white", plot_bgcolor="#f3f6fb",
    shapes=shapes,
    xaxis=dict(common_x, domain=[X0, 1], anchor="y", showticklabels=False),
    yaxis=dict(common_y, domain=[1 - 355 / H, 1 - 54 / H], anchor="x", range=[65, 85],
               tickvals=temp_ticks, ticktext=temp_ticktext),
    xaxis2=dict(common_x, domain=[X0, 1], anchor="y2", matches="x", showticklabels=True,
                ticklabelstandoff=0),
    yaxis2=dict(common_y, domain=[1 - 710 / H, 1 - 402 / H], anchor="x2", range=[10, 70],
                tickvals=hum_ticks, ticktext=hum_ticktext),
    legend=dict(orientation="h", x=29 / PLOT_W, xanchor="left", y=1 + 9 / H, yanchor="top",
                font=LEG_FONT, bgcolor="rgba(0,0,0,0)", itemsizing="trace"),
    legend3=dict(orientation="h", x=29 / PLOT_W, xanchor="left", y=1 - 14 / H, yanchor="top",
                 font=LEG_FONT, bgcolor="rgba(0,0,0,0)", itemsizing="trace"),
    legend2=dict(orientation="h", x=30 / PLOT_W, xanchor="left", y=1 - 371 / H, yanchor="top",
                 font=LEG_FONT, bgcolor="rgba(0,0,0,0)", itemsizing="trace"),
    showlegend=True,
    hovermode=False,
)

# the final day label sits at the very right edge of the page; keep it inside the page
fig.add_annotation(text=day_labels[7], xref="paper", yref="paper",
                   x=1, y=1 - 722 / H,
                   xanchor="right", yanchor="middle", xshift=22, showarrow=False,
                   borderpad=0, font=x_font)

fig.write_html("out.html")
